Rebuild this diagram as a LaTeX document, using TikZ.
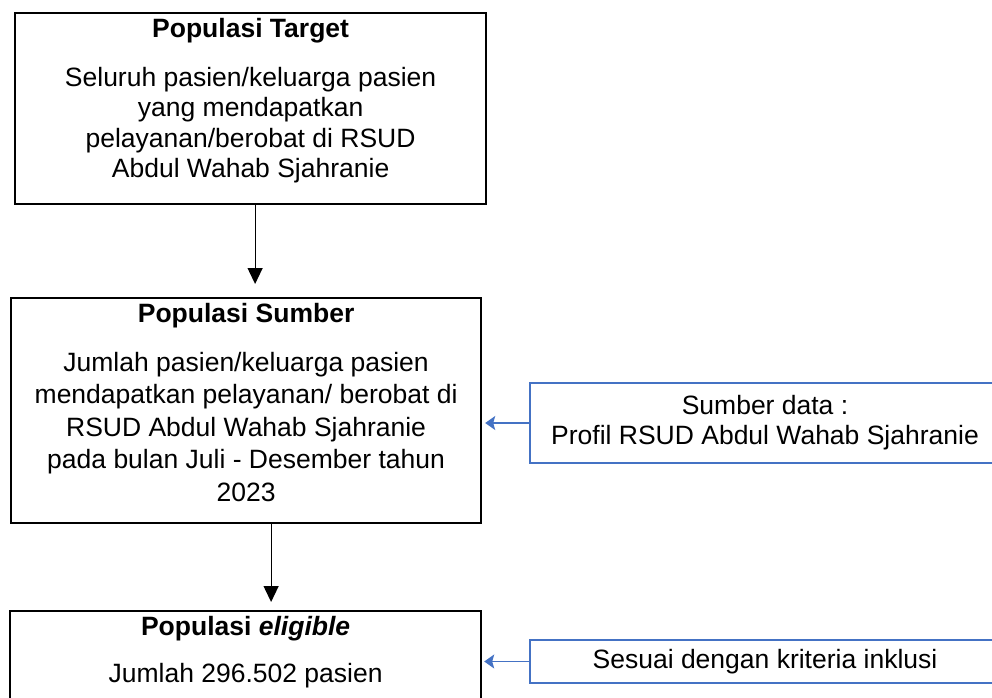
\documentclass[tikz,border=0pt]{standalone}
\usepackage{fontspec}
\setmainfont{Liberation Sans}
\usetikzlibrary{positioning,arrows.meta}
\definecolor{srcblue}{HTML}{4472C4}

\begin{document}
\begin{tikzpicture}[
            x=1pt, y=-1pt,
            popbox/.style={rectangle, draw, line width=2.2pt, anchor=north west},
            srcbox/.style={rectangle, draw=srcblue, line width=2pt, anchor=north west, align=center, inner sep=0pt},
            titletext/.style={anchor=base, inner sep=0pt, font=\bfseries\fontsize{26.5}{30}\selectfont},
            bodytext/.style={align=center, inner sep=0pt, font=\fontsize{26.5}{30.5}\selectfont},
            arrow/.style={-{Triangle[length=16pt,width=15pt]}, line width=1.2pt},
            bluearrow/.style={-{Stealth[length=10pt,width=14pt,inset=2pt]}, draw=srcblue, line width=1.2pt}
        ]
        \useasboundingbox (0,0) rectangle (992,697);
        \clip (0,0) rectangle (992,697);

        % main boxes
        \node[popbox, minimum width=471pt, minimum height=191pt] (box1) at (14,12) {};
        \node[titletext] (title1) at ([yshift=-25.5pt]box1.north) {Populasi Target};
        \node[bodytext, below=29.5pt of title1.base] (body1) {Seluruh pasien/keluarga pasien\\yang mendapatkan\\pelayanan/berobat di RSUD\\Abdul Wahab Sjahranie};

        \node[popbox, minimum width=470pt, minimum height=225pt] (box2) at (10,297) {};
        \node[titletext] (title2) at ([yshift=-25.5pt]box2.north) {Populasi Sumber};
        \node[bodytext, font=\fontsize{26.5}{32.5}\selectfont, below=29.5pt of title2.base] (body2) {Jumlah pasien/keluarga pasien\\mendapatkan pelayanan/ berobat di\\RSUD Abdul Wahab Sjahranie\\pada bulan Juli - Desember tahun\\2023};

        \node[popbox, minimum width=471pt, minimum height=100pt] (box3) at (9,610) {};
        \node[titletext] (title3) at ([yshift=-25.5pt]box3.north) {Populasi \textit{eligible}};
        \node[bodytext, below=27.5pt of title3.base] (body3) {Jumlah 296.502 pasien};

        % side boxes
        \node[srcbox, minimum width=470pt, minimum height=80pt, font=\fontsize{26.5}{30}\selectfont] (srcA) at (529,382) {Sumber data :\\Profil RSUD Abdul Wahab Sjahranie};
        \node[srcbox, minimum width=470pt, minimum height=43pt, font=\fontsize{26.5}{30}\selectfont] (srcB) at (529,639) {Sesuai dengan kriteria inklusi};

        \draw[arrow, shorten >=13pt] ([xshift=4.5pt]box1.south) -- ([xshift=4.5pt]box1.south |- box2.north);
        \draw[arrow, shorten >=8pt] ([xshift=25pt]box2.south) -- ([xshift=25pt]box2.south |- box3.north);
        \draw[bluearrow, shorten >=3pt] (srcA.west) -- (srcA.west -| box2.east);
        \draw[bluearrow, shorten >=2pt] (srcB.west) -- (srcB.west -| box3.east);
        \end{tikzpicture}
\end{document}
